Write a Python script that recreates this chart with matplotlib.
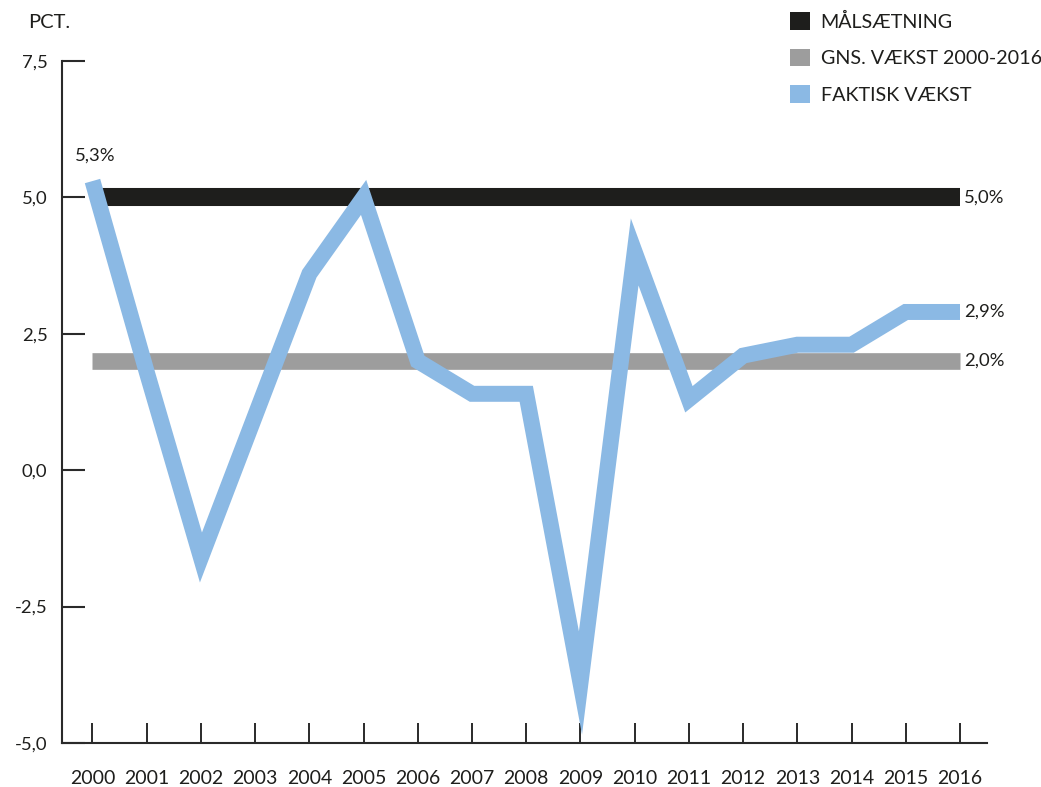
import matplotlib
matplotlib.use("Agg")
import matplotlib.pyplot as plt
from matplotlib.patches import Patch

# ---------------- data ----------------
years = list(range(2000, 2017))
actual_growth = [5.3, 1.8, -1.6, 1.0, 3.6, 5.0, 2.0, 1.4, 1.4, -3.9,
                 4.0, 1.3, 2.1, 2.3, 2.3, 2.9, 2.9]
target_value = 5.0
average_value = 2.0
y_ticks = [-5.0, -2.5, 0.0, 2.5, 5.0, 7.5]
y_tick_labels = ["-5,0", "-2,5", "0,0", "2,5", "5,0", "7,5"]
legend_labels = ["MÅLSÆTNING", "GNS. VÆKST 2000-2016", "FAKTISK VÆKST"]
unit_label = "PCT."

# ---------------- style ----------------
BLUE = "#8BB9E4"
BLACK = "#1E1E1C"
GRAY = "#9D9D9D"
TXT = "#1E1E1C"
AXC = "#2A2A2A"
plt.rcParams["font.family"] = ["Lato", "DejaVu Sans"]

W, H = 1041, 787
fig = plt.figure(figsize=(W / 100, H / 100), dpi=100)
ax = fig.add_axes([62 / W, 1 - 743 / H, (987 - 62) / W, (743 - 61) / H])

def fmt(v):
    return f"{v:.1f}".replace(".", ",") + "%"

# reference lines
ax.hlines(target_value, years[0], years[-1], colors=BLACK, lw=13, zorder=2)
ax.hlines(average_value, years[0], years[-1], colors=GRAY, lw=12, zorder=2)
# actual growth
ax.plot(years, actual_growth, color=BLUE, lw=11.5, solid_joinstyle="miter",
        solid_capstyle="butt", zorder=3, clip_on=False)

ax.set_xlim(1999.4375, 2016.498)
ax.set_ylim(-5.0, 7.5)

ax.set_yticks(y_ticks)
ax.set_yticklabels(y_tick_labels)
ax.set_xticks(years)
ax.set_xticklabels([str(y) for y in years])

for s in ["top", "right"]:
    ax.spines[s].set_visible(False)
for s in ["left", "bottom"]:
    ax.spines[s].set_color(AXC)
    ax.spines[s].set_linewidth(1.5)

ax.tick_params(axis="y", direction="in", length=16.5, width=1.5, color=AXC,
               pad=10.5, labelsize=13.3, labelcolor=TXT)
ax.tick_params(axis="x", direction="in", length=14.5, width=1.4, color=AXC,
               pad=19.5, labelsize=14, labelcolor=TXT)

# value labels
ax.annotate(fmt(actual_growth[0]), (years[0], actual_growth[0]),
            xytext=(2, 18), textcoords="offset points",
            ha="center", va="center", fontsize=13.3, color=TXT)
ax.annotate(fmt(target_value), (years[-1], target_value), xytext=(3, 0),
            textcoords="offset points", ha="left", va="center",
            fontsize=13.3, color=TXT)
ax.annotate(fmt(actual_growth[-1]), (years[-1], actual_growth[-1]),
            xytext=(3, 0), textcoords="offset points", ha="left",
            va="center", fontsize=13.3, color=TXT)
ax.annotate(fmt(average_value), (years[-1], average_value), xytext=(3, 0),
            textcoords="offset points", ha="left", va="center",
            fontsize=13.3, color=TXT)

fig.text(28 / W, 1 - 22 / H, unit_label, ha="left", va="center",
         fontsize=14.5, color=TXT)

handles = [Patch(facecolor=c, edgecolor="none") for c in (BLACK, GRAY, BLUE)]
fig.legend(handles, legend_labels, loc="upper left",
           bbox_to_anchor=(790 / W, 1 - 12 / H), frameon=False,
           borderpad=0, borderaxespad=0, handlelength=1.0, handleheight=1.0,
           handletextpad=0.55, labelspacing=0.92, fontsize=14.2,
           labelcolor=TXT)

fig.savefig("out.png", dpi=100)
